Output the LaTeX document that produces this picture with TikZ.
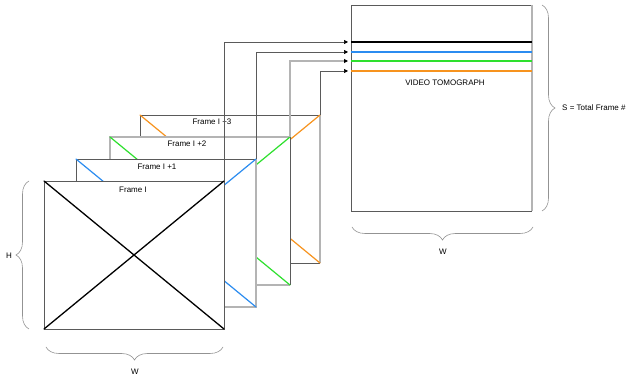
\documentclass[tikz,border=0pt]{standalone}
\usepackage{fontspec}
\setmainfont{Liberation Sans}
\usetikzlibrary{arrows.meta,decorations.pathreplacing}
\definecolor{dk}{HTML}{5A5A5A}
\definecolor{lt}{HTML}{B4B4B4}
\definecolor{cblue}{HTML}{2B8CF0}
\definecolor{cgreen}{HTML}{2EE02E}
\definecolor{corange}{HTML}{F7931E}
\begin{document}
\begin{tikzpicture}[x=1pt,y=-1pt,
 frm/.style={fill=white,draw=none,inner sep=0,outer sep=0,minimum width=180pt,minimum height=148pt},
 dke/.style={draw=dk,line width=0.8pt},
 lte/.style={draw=lt,line width=1.4pt},
 diag/.style={line width=1.2pt,line cap=round},
 conn/.style={draw=dk,line width=0.7pt,-{Triangle[length=4pt,width=4pt,black]},shorten >=3pt},
 lbl/.style={font=\fontsize{8}{9}\selectfont,inner sep=0},
 brc/.style={draw=gray!85,line width=0.6pt,decorate,decoration={brace,amplitude=13pt}}]
\useasboundingbox (0,0) rectangle (630,379);

% Frame I+3
\node[frm] (f3) at (230,189) {};
\draw[dke] (f3.south west) -- (f3.north west) -- (f3.north east);
\draw[dke] (f3.south east) -- (f3.south west);
\draw[lte] (f3.north east) -- (f3.south east);
\draw[diag,corange] (f3.north west) -- (f3.south east) (f3.south west) -- (f3.north east);
\node[lbl] (t3) at (212,122) {Frame I +3};

% Frame I+2
\node[frm] (f2) at (200,211) {};
\draw[lte] (f2.south east) -- (f2.south west) -- (f2.north west) -- (f2.north east);
\draw[dke] (f2.north east) -- (f2.south east);
\draw[diag,cgreen] (f2.north west) -- (f2.south east) (f2.south west) -- (f2.north east);
\node[lbl] (t2) at (187,144) {Frame I +2};

% Frame I+1
\node[frm] (f1) at (166,233) {};
\draw[dke] (f1.south west) -- (f1.north west) -- (f1.north east);
\draw[lte] (f1.north east) -- (f1.south east) -- (f1.south west);
\draw[diag,cblue] (f1.north west) -- (f1.south east) (f1.south west) -- (f1.north east);
\node[lbl] (t1) at (157,167) {Frame I +1};

% Frame I
\node[frm] (f0) at (134,255) {};
\draw[dke] (f0.south west) rectangle (f0.north east);
\draw[diag,black,line width=1.3pt] (f0.north west) -- (f0.south east) (f0.south west) -- (f0.north east);
\node[lbl] (t0) at (133,190) {Frame I};

% Video tomograph
\node[fill=white,inner sep=0,outer sep=0,minimum width=181pt,minimum height=206pt] (tomo) at (441.5,108) {};
\draw[dke] (tomo.north east) -- (tomo.north west) -- (tomo.south west) -- (tomo.south east);
\draw[lte] (tomo.north east) -- (tomo.south east);
\coordinate (s0) at (351,42);
\coordinate (s1) at (351,52);
\coordinate (s2) at (351,61);
\coordinate (s3) at (351,71);
\draw[line width=1.4pt,black] (s0) -- (s0 -| tomo.east);
\draw[line width=1.4pt,cblue] (s1) -- (s1 -| tomo.east);
\draw[line width=1.4pt,cgreen] (s2) -- (s2 -| tomo.east);
\draw[line width=1.4pt,corange] (s3) -- (s3 -| tomo.east);
\node[lbl] (vt) at (445,83) {VIDEO TOMOGRAPH};

% Connectors
\draw[conn] (f0.north east) |- (s0);
\draw[conn] (f1.north east) |- (s1);
\draw[conn,draw=lt,line width=1.2pt] (f2.north east) |- (s2);
\draw[conn] (f3.north east) |- (s3);

% Braces
\draw[brc] (29,329) -- (29,181);
\node[lbl] (h) at (9,256) {H};
\draw[brc] (223,347) -- (46,347);
\node[lbl] (w0) at (135,372) {W};
\draw[brc] (533,227) -- (352,227);
\node[lbl] (w1) at (443,252) {W};
\draw[brc] (542,5) -- (542,211);
\node[lbl,anchor=west] (s) at (562,108) {S = Total Frame \#};
\end{tikzpicture}
\end{document}
